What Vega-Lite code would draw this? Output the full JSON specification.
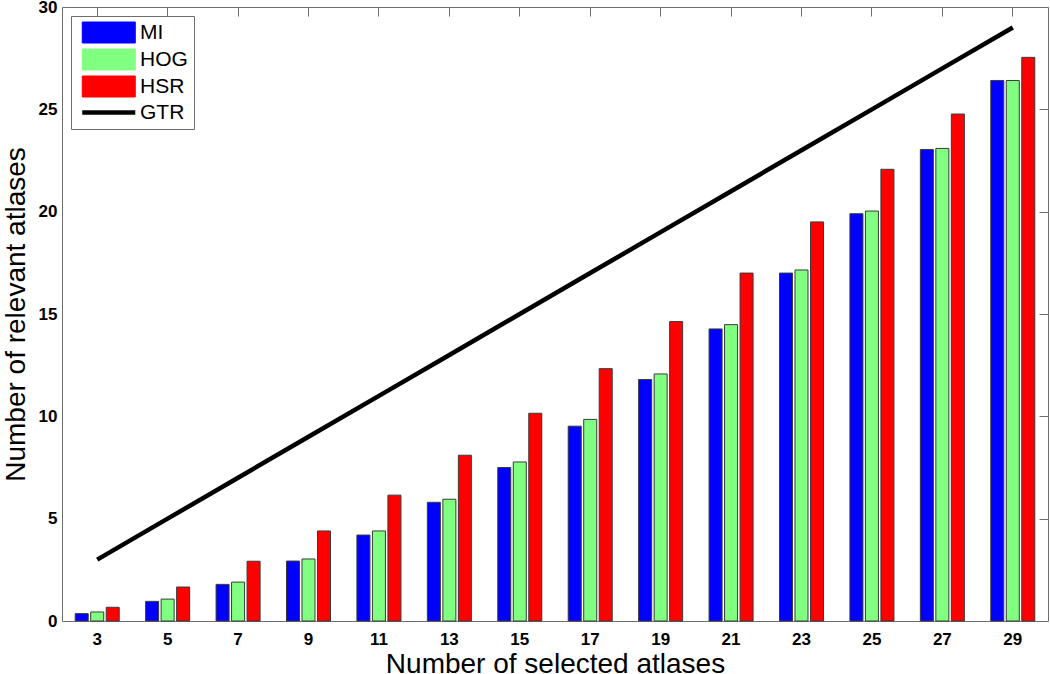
{
  "$schema": "https://vega.github.io/schema/vega-lite/v6.json",
  "width": 986,
  "height": 614,
  "autosize": "none",
  "padding": {"left": 62, "top": 7, "right": 2, "bottom": 53},
  "background": "white",
  "config": {
    "view": {"stroke": "#6e6e6e", "strokeWidth": 1},
    "font": "Liberation Sans",
    "axis": {
      "grid": false,
      "domain": false,
      "ticks": true,
      "zindex": 1,
      "labelFont": "Liberation Sans",
      "labelFontWeight": "bold",
      "labelFontSize": 17,
      "labelColor": "black",
      "titleFont": "Liberation Sans",
      "titleFontSize": 28,
      "titleFontWeight": "normal",
      "titleColor": "black",
      "tickColor": "#6e6e6e",
      "tickWidth": 1,
      "tickOpacity": 1
    }
  },
  "datasets": {
    "bars": [
      {"n": 3, "series": "MI", "value": 0.36}, {"n": 3, "series": "HOG", "value": 0.44}, {"n": 3, "series": "HSR", "value": 0.67},
      {"n": 5, "series": "MI", "value": 0.96}, {"n": 5, "series": "HOG", "value": 1.07}, {"n": 5, "series": "HSR", "value": 1.66},
      {"n": 7, "series": "MI", "value": 1.79}, {"n": 7, "series": "HOG", "value": 1.9}, {"n": 7, "series": "HSR", "value": 2.92},
      {"n": 9, "series": "MI", "value": 2.93}, {"n": 9, "series": "HOG", "value": 3.03}, {"n": 9, "series": "HSR", "value": 4.4},
      {"n": 11, "series": "MI", "value": 4.2}, {"n": 11, "series": "HOG", "value": 4.4}, {"n": 11, "series": "HSR", "value": 6.15},
      {"n": 13, "series": "MI", "value": 5.8}, {"n": 13, "series": "HOG", "value": 5.95}, {"n": 13, "series": "HSR", "value": 8.1},
      {"n": 15, "series": "MI", "value": 7.5}, {"n": 15, "series": "HOG", "value": 7.77}, {"n": 15, "series": "HSR", "value": 10.15},
      {"n": 17, "series": "MI", "value": 9.52}, {"n": 17, "series": "HOG", "value": 9.85}, {"n": 17, "series": "HSR", "value": 12.33},
      {"n": 19, "series": "MI", "value": 11.8}, {"n": 19, "series": "HOG", "value": 12.07}, {"n": 19, "series": "HSR", "value": 14.63},
      {"n": 21, "series": "MI", "value": 14.27}, {"n": 21, "series": "HOG", "value": 14.48}, {"n": 21, "series": "HSR", "value": 17.0},
      {"n": 23, "series": "MI", "value": 17.0}, {"n": 23, "series": "HOG", "value": 17.15}, {"n": 23, "series": "HSR", "value": 19.5},
      {"n": 25, "series": "MI", "value": 19.9}, {"n": 25, "series": "HOG", "value": 20.03}, {"n": 25, "series": "HSR", "value": 22.07},
      {"n": 27, "series": "MI", "value": 23.04}, {"n": 27, "series": "HOG", "value": 23.09}, {"n": 27, "series": "HSR", "value": 24.77},
      {"n": 29, "series": "MI", "value": 26.41}, {"n": 29, "series": "HOG", "value": 26.41}, {"n": 29, "series": "HSR", "value": 27.54}
    ],
    "gtr": [
      {"n": 3, "series": "GTR", "value": 3}, {"n": 5, "series": "GTR", "value": 5}, {"n": 7, "series": "GTR", "value": 7},
      {"n": 9, "series": "GTR", "value": 9}, {"n": 11, "series": "GTR", "value": 11}, {"n": 13, "series": "GTR", "value": 13},
      {"n": 15, "series": "GTR", "value": 15}, {"n": 17, "series": "GTR", "value": 17}, {"n": 19, "series": "GTR", "value": 19},
      {"n": 21, "series": "GTR", "value": 21}, {"n": 23, "series": "GTR", "value": 23}, {"n": 25, "series": "GTR", "value": 25},
      {"n": 27, "series": "GTR", "value": 27}, {"n": 29, "series": "GTR", "value": 29}
    ]
  },
  "layer": [
    {
      "data": {"name": "bars"},
      "mark": {"type": "bar", "stroke": "#3a3a3a", "strokeWidth": 1},
      "encoding": {
        "x": {
          "field": "n", "type": "ordinal",
          "scale": {"domain": [3, 5, 7, 9, 11, 13, 15, 17, 19, 21, 23, 25, 27, 29], "paddingInner": 0.375, "paddingOuter": 0.1875},
          "axis": {"orient": "top", "labels": false, "title": null, "tickSize": 9, "offset": -9}
        },
        "xOffset": {
          "field": "series", "type": "nominal",
          "scale": {"domain": ["MI", "HOG", "HSR"], "paddingInner": 0.16, "paddingOuter": 0}
        },
        "y": {
          "field": "value", "type": "quantitative",
          "scale": {"domain": [0, 30], "nice": false},
          "axis": {"orient": "right", "labels": false, "title": null, "values": [5, 10, 15, 20, 25], "tickSize": 9, "offset": -9}
        },
        "color": {
          "field": "series", "type": "nominal",
          "scale": {"domain": ["MI", "HOG", "HSR", "GTR"], "range": ["#0000ff", "#80ff80", "#ff0000", "#000000"]},
          "legend": {
            "orient": "top-left",
            "offset": 9,
            "title": null,
            "symbolType": "M-0.5,-1H4.55V1H-0.5Z",
            "symbolSize": 441,
            "labelOffset": 42,
            "labelFontSize": 21,
            "labelFont": "Liberation Sans",
            "labelColor": "black",
            "strokeColor": "#6e6e6e",
            "fillColor": "white",
            "padding": 6,
            "rowPadding": 2,
            "symbolOpacity": 1,
            "symbolStrokeColor": "#3a3a3a",
            "symbolStrokeWidth": 1,
            "encode": {
              "symbols": {
                "update": {
                  "shape": {"signal": "datum.value === 'GTR' ? 'M-0.5,0H4.55' : 'M-0.5,-1H4.55V1H-0.5Z'"},
                  "fill": {"signal": "datum.value === 'GTR' ? 'transparent' : scale('color', datum.value)"},
                  "stroke": {"signal": "datum.value === 'GTR' ? 'black' : '#3a3a3a'"},
                  "strokeWidth": {"signal": "datum.value === 'GTR' ? 4.5 : 1"},
                  "opacity": {"value": 1}
                }
              }
            }
          }
        }
      }
    },
    {
      "data": {"name": "gtr"},
      "mark": {"type": "line", "strokeWidth": 4.5, "strokeCap": "butt"},
      "encoding": {
        "x": {
          "field": "n", "type": "ordinal",
          "axis": {"orient": "bottom", "title": "Number of selected atlases", "labelAngle": 0, "labelPadding": 19, "titlePadding": 3, "tickSize": -9, "offset": 0, "tickColor": "transparent", "tickOpacity": 0}
        },
        "y": {
          "field": "value", "type": "quantitative",
          "axis": {"orient": "left", "title": "Number of relevant atlases", "values": [0, 5, 10, 15, 20, 25, 30], "labelPadding": 14, "titlePadding": 8, "tickSize": -9, "offset": 0, "tickColor": "transparent", "tickOpacity": 0}
        },
        "color": {"field": "series", "type": "nominal"}
      }
    }
  ]
}
